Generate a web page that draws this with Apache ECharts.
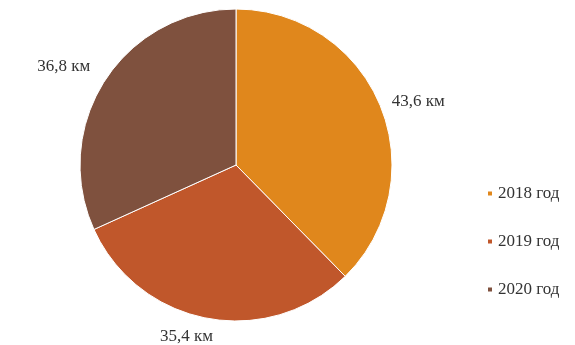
<!DOCTYPE html>
<html>
<head>
<meta charset="utf-8">
<script src="https://cdn.jsdelivr.net/npm/echarts@6/dist/echarts.min.js"></script>
<style>
  html, body { margin: 0; padding: 0; background: #fff; }
  #chart { width: 575px; height: 345px; }
</style>
</head>
<body>
<div id="chart"></div>
<script>
  // данные по годам
  var years = ['2018 год', '2019 год', '2020 год'];
  var lengths = [43.6, 35.4, 36.8];
  var colors = ['#E0871C', '#C0572B', '#7F513E'];
  // сдвиг подписей [dx, dy]
  var labelShift = [[-5, -1], [16, 10], [1, -10]];

  var chart = echarts.init(document.getElementById('chart'));
  var data = years.map(function(y, i) {
    return { name: y, value: lengths[i], itemStyle: { color: colors[i] } };
  });

  chart.setOption({
    animation: false,
    legend: {
      orient: 'vertical',
      left: 481,
      top: 180,
      itemGap: 31,
      itemWidth: 6,
      itemHeight: 6,
      icon: 'rect',
      textStyle: { fontFamily: 'Liberation Serif', fontSize: 17, color: '#333' },
      data: years
    },
    series: [{
      type: 'pie',
      center: [236, 165],
      radius: 156,
      startAngle: 90,
      clockwise: true,
      itemStyle: { borderColor: '#fff', borderWidth: 1 },
      label: {
        position: 'outside',
        fontFamily: 'Liberation Serif',
        fontSize: 17,
        color: '#333',
        formatter: function(p) { return String(p.value).replace('.', ',') + ' км'; }
      },
      labelLine: { show: false, length: 8, length2: 4 },
      labelLayout: function(p) {
        var s = labelShift[p.dataIndex];
        return { dx: s[0], dy: s[1] };
      },
      data: data
    }]
  });
</script>
</body>
</html>
